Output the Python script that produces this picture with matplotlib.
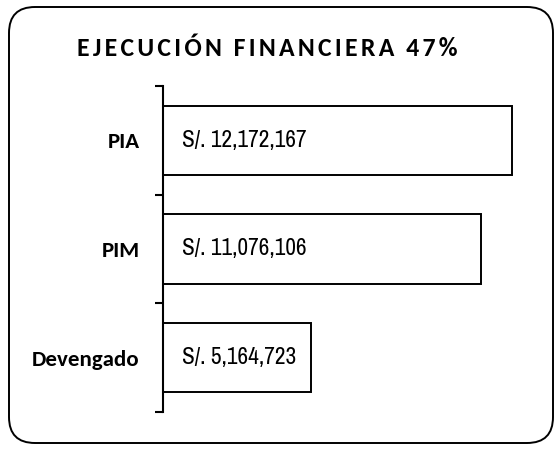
import matplotlib
matplotlib.use("Agg")
import matplotlib.pyplot as plt
from matplotlib.patches import FancyBboxPatch
from matplotlib.transforms import IdentityTransform
from matplotlib import font_manager

categories = ["PIA", "PIM", "Devengado"]
values = [12172167, 11076106, 5164723]
value_labels = ["S/. 12,172,167", "S/. 11,076,106", "S/. 5,164,723"]
title = "EJECUCIÓN FINANCIERA 47%"

names = {f.name for f in font_manager.fontManager.ttflist}
def pick(cands):
    for c in cands:
        if c in names:
            return c
    return "DejaVu Sans"
narrow = pick(["Liberation Sans Narrow", "Arial Narrow", "Archivo Narrow", "Roboto Condensed", "PT Sans Narrow"])
calib = pick(["Carlito", "Calibri", "Lato"])

W, H = 557, 450
fig = plt.figure(figsize=(W / 100, H / 100), dpi=100)

# rounded border
box = FancyBboxPatch((9, H - 443), 544, 436, boxstyle="round,pad=0,rounding_size=26",
                     transform=IdentityTransform(), facecolor="none",
                     edgecolor="black", linewidth=1.4, zorder=-1)
fig.patches.append(box)

left_px, right_px = 163, 536
top_px, bot_px = 86, 412
ax = fig.add_axes([left_px / W, 1 - bot_px / H, (right_px - left_px) / W, (bot_px - top_px) / H])
ax.patch.set_alpha(0)

ypos = list(range(len(categories)))
ax.barh(ypos, values, height=0.64, color="white", edgecolor="black", linewidth=1.4)
ax.set_ylim(len(categories) - 0.5, -0.5)
ax.set_xlim(0, 13.0e6)

for y, lab in zip(ypos, value_labels):
    ax.annotate(lab, xy=(0, y), xytext=(14, 0), textcoords="offset points",
                ha="left", va="center", fontsize=16.8, family=[narrow, "DejaVu Sans"])

for sp in ["top", "right", "bottom"]:
    ax.spines[sp].set_visible(False)
ax.spines["left"].set_linewidth(1.5)
ax.set_xticks([])

ax.set_yticks([y - 0.5 for y in ypos] + [len(categories) - 0.5])
ax.set_yticklabels([])
ax.tick_params(axis="y", length=6, width=1.5, direction="out")
ax.set_yticks(ypos, minor=True)
ax.set_yticklabels(categories, minor=True, fontsize=16.5, fontweight="bold", family=[calib, "DejaVu Sans"])
ax.tick_params(axis="y", which="minor", length=0, pad=17)

hair = "\u200a"
spaced = "  ".join(hair.join(w) for w in title.split(" "))
fig.text(267 / W, 1 - 48 / H, spaced, ha="center", va="center", fontsize=18.5,
         fontweight="bold", family=[calib, "DejaVu Sans"])

fig.savefig("out.png", dpi=100)
